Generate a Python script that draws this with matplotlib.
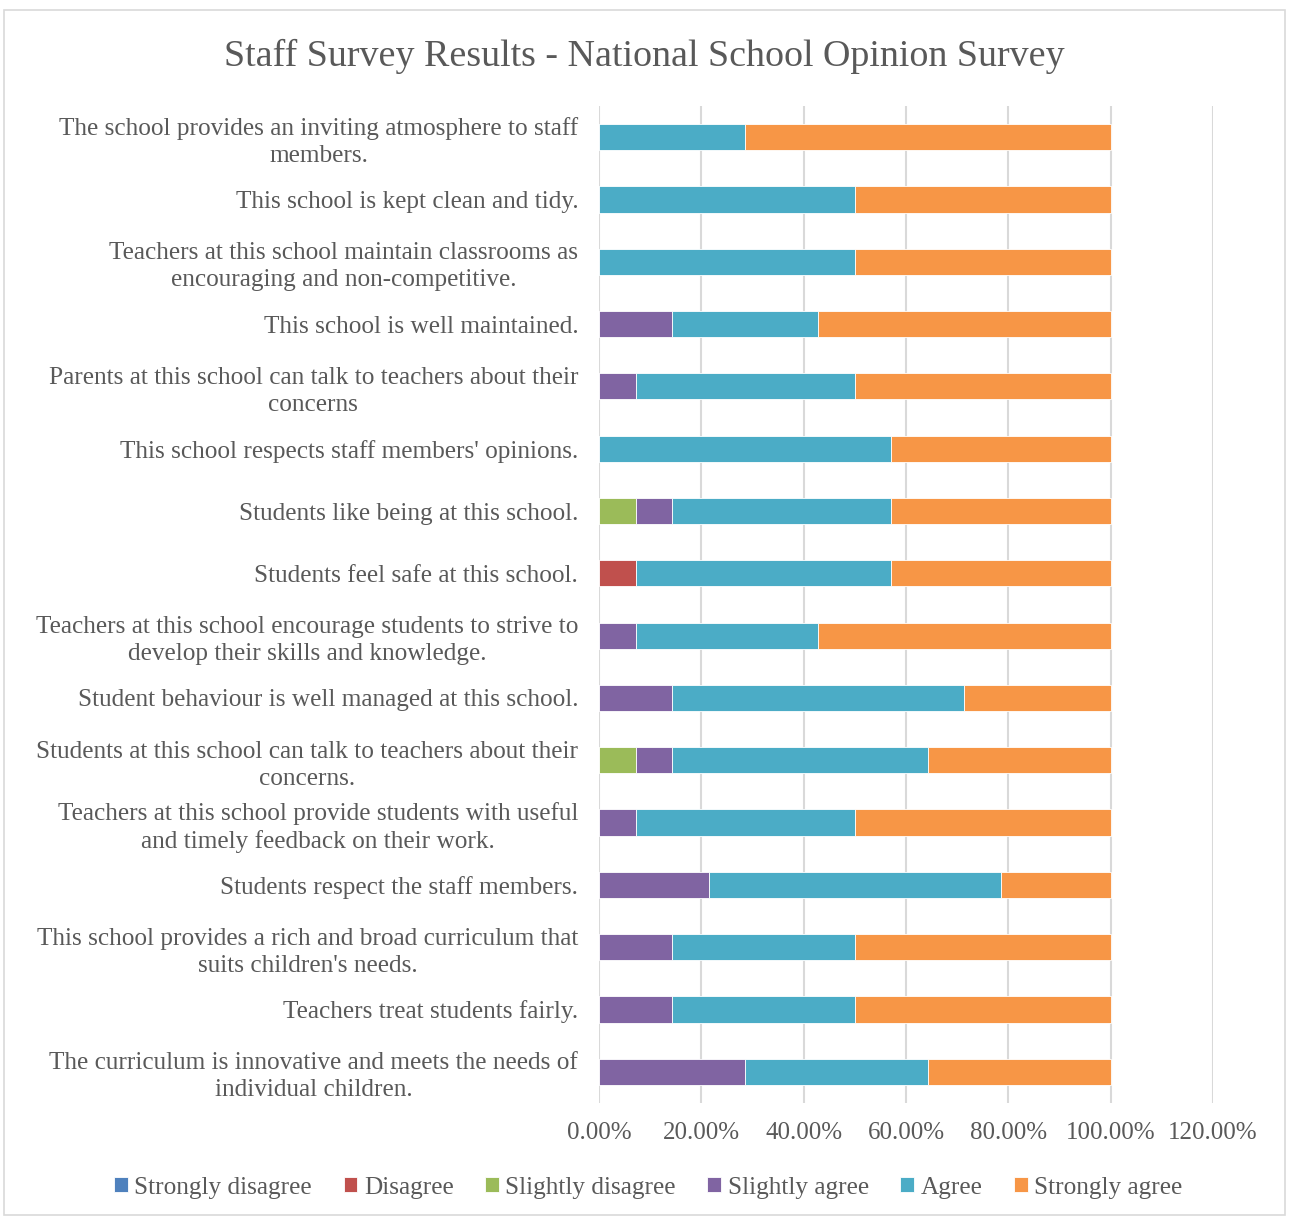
import matplotlib
matplotlib.use("Agg")
import matplotlib.pyplot as plt
import numpy as np
from matplotlib.patches import Rectangle

categories = [
    "The school provides an inviting atmosphere to staff\nmembers.",
    "This school is kept clean and tidy.",
    "Teachers at this school maintain classrooms as\nencouraging and non-competitive.",
    "This school is well maintained.",
    "Parents at this school can talk to teachers about their\nconcerns",
    "This school respects staff members' opinions.",
    "Students like being at this school.",
    "Students feel safe at this school.",
    "Teachers at this school encourage students to strive to\ndevelop their skills and knowledge.",
    "Student behaviour is well managed at this school.",
    "Students at this school can talk to teachers about their\nconcerns.",
    "Teachers at this school provide students with useful\nand timely feedback on their work.",
    "Students respect the staff members.",
    "This school provides a rich and broad curriculum that\nsuits children's needs.",
    "Teachers treat students fairly.",
    "The curriculum is innovative and meets the needs of\nindividual children.",
]

series_names = ["Strongly disagree", "Disagree", "Slightly disagree",
                "Slightly agree", "Agree", "Strongly agree"]

strongly_disagree = [0, 0, 0, 0, 0, 0, 0, 0, 0, 0, 0, 0, 0, 0, 0, 0]
disagree = [0, 0, 0, 0, 0, 0, 0, 7.14, 0, 0, 0, 0, 0, 0, 0, 0]
slightly_disagree = [0, 0, 0, 0, 0, 0, 7.14, 0, 0, 0, 7.14, 0, 0, 0, 0, 0]
slightly_agree = [0, 0, 0, 14.29, 7.14, 0, 7.14, 0, 7.14, 14.29, 7.14, 7.14, 21.43, 14.29, 14.29, 28.57]
agree = [28.57, 50, 50, 28.57, 42.86, 57.14, 42.86, 50, 35.71, 57.14, 50, 42.86, 57.14, 35.71, 35.71, 35.71]
strongly_agree = [71.43, 50, 50, 57.14, 50, 42.86, 42.86, 42.86, 57.14, 28.57, 35.71, 50, 21.43, 50, 50, 35.71]

x_ticks = [0, 20, 40, 60, 80, 100, 120]
x_tick_labels = ["0.00%", "20.00%", "40.00%", "60.00%", "80.00%", "100.00%", "120.00%"]

colors = ["#4F81BD", "#C0504D", "#9BBB59", "#8064A2", "#4BACC6", "#F79646"]
text_color = "#595959"

plt.rcParams['font.family'] = ['Liberation Serif', 'DejaVu Serif']

fig = plt.figure(figsize=(12.89, 12.17), dpi=100)
fig.patches.append(Rectangle((0.003, 0.002), 0.994, 0.99, transform=fig.transFigure,
                             fill=False, edgecolor="#D9D9D9", linewidth=1.2))
ax = fig.add_axes([0.4647, 0.0937, 0.4763, 0.8192])

data = [strongly_disagree, disagree, slightly_disagree, slightly_agree, agree, strongly_agree]
y = np.arange(len(categories))
left = np.zeros(len(categories))
for name, vals, c in zip(series_names, data, colors):
    vals = np.array(vals, dtype=float)
    ax.barh(y, vals, left=left, height=0.42, color=c, label=name,
            edgecolor="white", linewidth=0.6, zorder=3)
    left += vals

ax.set_ylim(len(categories) - 0.5, -0.5)
ax.set_xlim(0, 120)
ax.set_xticks(x_ticks)
ax.set_xticklabels(x_tick_labels)
ax.set_yticks(y)
ax.set_yticklabels(categories, ha="right", multialignment="center", linespacing=1.3)
ax.tick_params(axis="y", length=0, pad=15, labelsize=18.2, labelcolor=text_color)
ax.tick_params(axis="x", length=0, pad=14, labelsize=18, labelcolor=text_color)
ax.grid(axis="x", color="#D9D9D9", linewidth=1.5, zorder=0)
for s in ax.spines.values():
    s.set_visible(False)

fig.text(0.5, 0.954, "Staff Survey Results - National School Opinion Survey",
         ha="center", va="center", fontsize=27.4, color=text_color)

handles, labels = ax.get_legend_handles_labels()
fig.legend(handles, labels, loc="center", bbox_to_anchor=(0.503, 0.024), ncol=6,
           frameon=False, fontsize=18.2, labelcolor=text_color,
           handlelength=0.55, handleheight=0.55, handletextpad=0.25, columnspacing=1.25)

fig.savefig("out.png", dpi=100)
